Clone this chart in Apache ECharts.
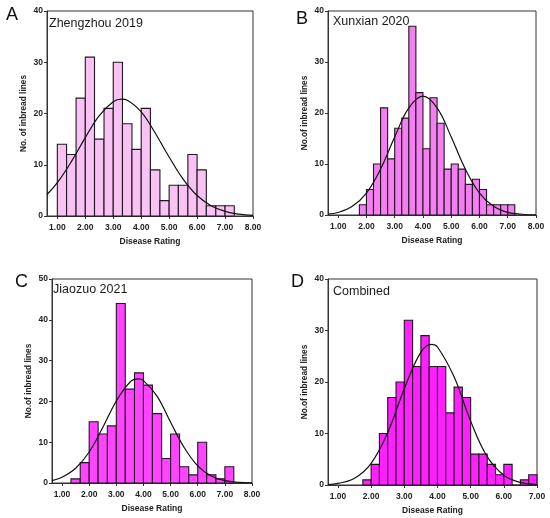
<!DOCTYPE html>
<html>
<head>
<meta charset="utf-8">
<script src="https://cdn.jsdelivr.net/npm/echarts@6/dist/echarts.min.js"></script>
<style>
  html, body { margin: 0; padding: 0; background: #fff; }
  #main { width: 550px; height: 518px; }
</style>
</head>
<body>
<div id="main"></div>
<script>
// bin edges (disease rating) and counts per panel
var edgesA = [1.00, 1.33, 1.67, 2.00, 2.33, 2.67, 3.00, 3.33, 3.67, 4.00, 4.33, 4.67, 5.00, 5.33, 5.67, 6.00, 6.33, 6.67, 7.00, 7.33];
var countsA = [14, 12, 23, 31, 15, 21, 30, 18, 13, 21, 9, 3, 6, 6, 12, 9, 2, 2, 2];

var edgesB = [1.75, 2.00, 2.25, 2.50, 2.75, 3.00, 3.25, 3.50, 3.75, 4.00, 4.25, 4.50, 4.75, 5.00, 5.25, 5.50, 5.75, 6.00, 6.25, 6.50, 6.75, 7.00, 7.25];
var countsB = [2, 5, 10, 21, 11, 17, 19, 37, 24, 13, 23, 18, 9, 10, 9, 6, 7, 5, 2, 2, 2, 2];

var edgesC = [1.33, 1.67, 2.00, 2.33, 2.67, 3.00, 3.33, 3.67, 4.00, 4.33, 4.67, 5.00, 5.33, 5.67, 6.00, 6.33, 6.67, 7.00, 7.33];
var countsC = [1, 5, 15, 12, 14, 44, 23, 27, 24, 17, 6, 12, 4, 2, 10, 2, 1, 4];

var edgesD = [1.75, 2.00, 2.25, 2.50, 2.75, 3.00, 3.25, 3.50, 3.75, 4.00, 4.25, 4.50, 4.75, 5.00, 5.25, 5.50, 5.75, 6.00, 6.25, 6.50, 6.75, 7.00];
var countsD = [1, 4, 10, 17, 20, 32, 23, 29, 23, 23, 14, 19, 17, 6, 6, 4, 2, 4, 0, 1, 2];

// normal curves
var curveXA = [0.63, 1.0, 1.5, 2.0, 2.5, 3.0, 3.3, 3.5, 4.0, 4.5, 5.0, 5.5, 6.0, 6.5, 7.0, 7.5, 8.0];
var curveYA = [4.2, 6.5, 10.6, 15.3, 19.6, 22.3, 22.8, 22.6, 20.3, 16.2, 11.5, 7.2, 4.0, 2.0, 0.9, 0.35, 0.12];

var curveXB = [0.64, 1.0, 1.5, 2.0, 2.5, 3.0, 3.5, 4.0, 4.5, 5.0, 5.5, 6.0, 6.5, 7.0, 7.5, 8.0];
var curveYB = [0.2, 0.5, 1.7, 4.3, 9.0, 15.3, 21.0, 23.3, 21.0, 15.3, 9.0, 4.3, 1.7, 0.5, 0.15, 0.03];

var curveXC = [0.63, 1.0, 1.5, 2.0, 2.5, 3.0, 3.5, 3.8, 4.0, 4.5, 5.0, 5.5, 6.0, 6.5, 7.0, 7.5, 8.0];
var curveYC = [0.6, 1.4, 3.6, 7.6, 13.6, 20.1, 24.7, 25.5, 25.1, 21.3, 14.9, 8.7, 4.2, 1.7, 0.57, 0.16, 0.04];

var curveXD = [0.70, 1.0, 1.5, 2.0, 2.5, 3.0, 3.5, 3.82, 4.0, 4.5, 5.0, 5.5, 6.0, 6.5, 7.0];
var curveYD = [0.1, 0.3, 1.3, 4.2, 10.2, 18.7, 25.8, 27.3, 26.8, 21.0, 12.4, 5.5, 1.9, 0.5, 0.1];

var tickXA = [1, 2, 3, 4, 5, 6, 7, 8];
var tickXD = [1, 2, 3, 4, 5, 6, 7];

var panelTitles = ['Zhengzhou 2019', 'Xunxian 2020', 'Jiaozuo 2021', 'Combined'];
var panelLetters = ['A', 'B', 'C', 'D'];
var yNames = ['No. of inbread lines', 'No.of inbread lines', 'No.of inbread lines', 'No.of inbread lines'];

var FONT = 'Liberation Sans, Arial, sans-serif';
var fills = ['#f8c2f2', '#f47ff0', '#ff44ff', '#ff1fff'];

var chart = echarts.init(document.getElementById('main'));

var grids = [
  { left: 47, top: 11, width: 206, height: 205 },
  { left: 328, top: 11, width: 208, height: 204 },
  { left: 52, top: 279, width: 200, height: 204 },
  { left: 328, top: 279, width: 209, height: 206 }
];
grids.forEach(function (g) {
  g.show = true; g.borderColor = '#333'; g.borderWidth = 1; g.backgroundColor = 'transparent';
});

function xAx(i, min, max, ticks) {
  return {
    type: 'value', gridIndex: i, min: min, max: max,
    name: 'Disease Rating', nameLocation: 'middle', nameGap: 21,
    nameTextStyle: { fontFamily: FONT, fontSize: 8.5, fontWeight: 'bold', color: '#222' },
    axisLine: { lineStyle: { color: '#333' } },
    axisTick: { customValues: ticks, length: 3, lineStyle: { color: '#333' } },
    axisLabel: {
      customValues: ticks, margin: 7,
      fontFamily: FONT, fontSize: 8.5, fontWeight: 'bold', color: '#222',
      formatter: function (v) { return v.toFixed(2); }
    },
    splitLine: { show: false }
  };
}
function yAx(i, max) {
  return {
    type: 'value', gridIndex: i, min: 0, max: max, interval: 10,
    name: yNames[i], nameLocation: 'middle', nameGap: 19, nameRotate: 90,
    nameTextStyle: { fontFamily: FONT, fontSize: 8.3, fontWeight: 'bold', color: '#222' },
    axisLine: { show: true, lineStyle: { color: '#333' } },
    axisTick: { show: true, length: 3, lineStyle: { color: '#333' } },
    axisLabel: { margin: 4, fontFamily: FONT, fontSize: 8.5, fontWeight: 'bold', color: '#222' },
    splitLine: { show: false }
  };
}

function bars(i, edges, counts) {
  var data = counts.map(function (c, k) { return [edges[k], edges[k + 1], c]; });
  return {
    type: 'custom', xAxisIndex: i, yAxisIndex: i,
    encode: { x: [0, 1], y: 2 },
    data: data,
    renderItem: function (params, api) {
      var p0 = api.coord([api.value(0), api.value(2)]);
      var p1 = api.coord([api.value(1), 0]);
      return {
        type: 'rect',
        shape: { x: p0[0], y: p0[1], width: p1[0] - p0[0], height: p1[1] - p0[1] },
        style: { fill: fills[i], stroke: '#221622', lineWidth: 1.1 }
      };
    },
    z: 2
  };
}
function curve(i, xs, ys) {
  return {
    type: 'line', xAxisIndex: i, yAxisIndex: i,
    data: xs.map(function (x, k) { return [x, ys[k]]; }),
    smooth: 0.4, showSymbol: false, symbol: 'none',
    lineStyle: { color: '#111', width: 1.2 },
    z: 3
  };
}

var titles = [];
var titlePos = [[49, 17], [333, 15], [53, 283], [333, 285]];
var letterPos = [[6, 6], [296, 10], [15, 273], [291, 273]];
for (var i = 0; i < 4; i++) {
  titles.push({ text: panelTitles[i], left: titlePos[i][0], top: titlePos[i][1], padding: 0,
    textStyle: { fontFamily: FONT, fontSize: 12.5, fontWeight: 'normal', color: '#1a1a1a' } });
  titles.push({ text: panelLetters[i], left: letterPos[i][0], top: letterPos[i][1], padding: 0,
    textStyle: { fontFamily: FONT, fontSize: 18, fontWeight: 'normal', color: '#111' } });
}

chart.setOption({
  animation: false,
  title: titles,
  grid: grids,
  xAxis: [xAx(0, 0.63, 8, tickXA), xAx(1, 0.64, 8, tickXA), xAx(2, 0.63, 8, tickXA), xAx(3, 0.70, 7, tickXD)],
  yAxis: [yAx(0, 40), yAx(1, 40), yAx(2, 50), yAx(3, 40)],
  series: [
    bars(0, edgesA, countsA), curve(0, curveXA, curveYA),
    bars(1, edgesB, countsB), curve(1, curveXB, curveYB),
    bars(2, edgesC, countsC), curve(2, curveXC, curveYC),
    bars(3, edgesD, countsD), curve(3, curveXD, curveYD)
  ]
});
</script>
</body>
</html>
